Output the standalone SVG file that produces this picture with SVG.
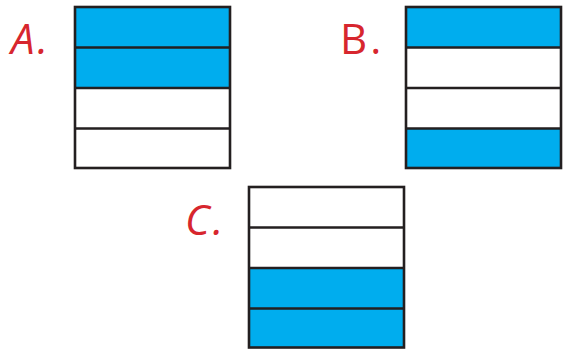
<svg xmlns="http://www.w3.org/2000/svg" width="564" height="349" viewBox="0 0 564 349">
<style>
.lbl{font-family:"Open Sans","DejaVu Sans",sans-serif;font-size:42px;fill:#d7262e;font-style:italic;letter-spacing:3px}
.b{fill:#00adee}
.w{fill:#ffffff}
.frame{fill:none;stroke:#231f20;stroke-width:2.6}
</style>
<rect width="564" height="349" fill="#ffffff"/>
<g id="A">
<rect class="b" x="75" y="7" width="155" height="81"/>
<rect class="w" x="75" y="88" width="155" height="81"/>
<rect class="frame" x="75" y="7" width="155" height="161"/>
<path class="frame" d="M75 47.5H230M75 88H230M75 128.5H230"/>
<text class="lbl" x="11" y="54">A.</text>
</g>
<g id="B">
<rect class="b" x="406" y="7" width="155" height="40.5"/>
<rect class="w" x="406" y="47.5" width="155" height="81"/>
<rect class="b" x="406" y="128.5" width="155" height="40"/>
<rect class="frame" x="406" y="7" width="155" height="161"/>
<path class="frame" d="M406 47.5H561M406 88H561M406 128.5H561"/>
<text class="lbl" x="340" y="54" style="font-style:normal">B.</text>
</g>
<g id="C">
<rect class="w" x="249" y="187" width="155" height="81"/>
<rect class="b" x="249" y="268" width="155" height="80"/>
<rect class="frame" x="249" y="187" width="155" height="160.5"/>
<path class="frame" d="M249 227.5H404M249 268H404M249 308.5H404"/>
<text class="lbl" x="185" y="235">C.</text>
</g>
<g id="connectors"></g>
</svg>
